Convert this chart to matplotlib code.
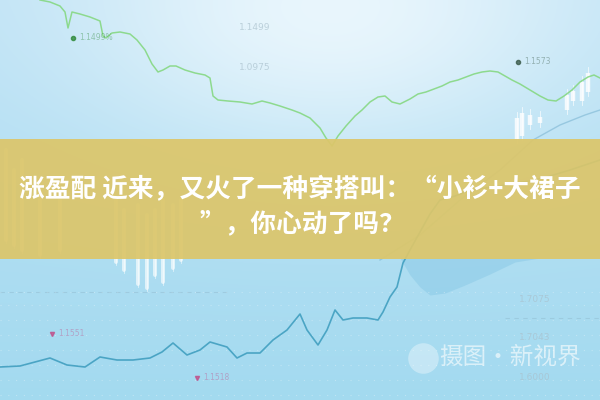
import numpy as np
import matplotlib
matplotlib.use("Agg")
import matplotlib.pyplot as plt

# title text
title_1 = "涨盈配 近来，又火了一种穿搭叫：“小衫+大裙子"
title_2 = "”，你心动了吗？"
watermark = "摄图·新视界"

# upper green price line (x = time, y = level)
green_x = [40, 50, 60, 65, 68, 72, 80, 90, 100, 103, 106, 112, 120, 130, 137, 145, 152, 158, 163,
           170, 176, 185, 195, 205, 210, 213, 218, 228, 240, 252, 262, 270, 280, 292, 300, 310, 320,
           326, 332, 338, 346, 355, 362, 370, 378, 385, 392, 400, 410, 418, 426, 434, 442, 450, 458,
           466, 474, 482, 490, 498, 505, 512, 520, 530, 540, 548, 556, 564, 572, 580, 588, 594, 600]
green_y = [0, 2, 6, 12, 28, 12, 14, 17, 21, 36, 38, 33, 32, 34, 40, 50, 64, 72, 70,
           66, 66, 70, 73, 75, 78, 96, 100, 101, 102, 104, 101, 103, 106, 110, 113, 118, 128,
           138, 146, 136, 126, 116, 110, 102, 97, 96, 102, 104, 99, 94, 92, 89, 86, 82, 80,
           77, 74, 72, 71, 72, 76, 80, 84, 90, 96, 100, 101, 96, 90, 82, 77, 75, 78]

# lower teal price line
teal_x = [0, 20, 35, 50, 67, 85, 100, 117, 133, 150, 162, 173, 187, 200, 210, 227, 237, 247, 260,
          273, 287, 300, 307, 318, 327, 335, 343, 353, 367, 378, 383, 390, 397, 403, 410, 420,
          430, 440, 455, 470, 485, 500, 515, 530, 550, 570, 585, 600]
teal_y = [367, 366, 362, 358, 365, 367, 357, 360, 360, 358, 352, 343, 355, 350, 342, 347, 358, 353, 353,
          340, 330, 314, 330, 345, 330, 310, 320, 318, 318, 320, 312, 297, 287, 263, 250, 232,
          214, 200, 196, 190, 188, 186, 183, 181, 176, 170, 165, 160]

# faint moving average under the candles
ma_x = [380, 420, 460, 500, 533, 560, 585, 600]
ma_y = [260, 235, 200, 170, 140, 125, 115, 110]

# candles upper right (x, top, bottom)
candle_up_x = [517, 522, 530, 540, 567, 573, 582, 588]
candle_up_top = [118, 113, 115, 117, 95, 91, 82, 73]
candle_up_bot = [139, 136, 125, 123, 110, 101, 101, 92]

# candles hanging under the band, lower left
candle_lo_x = [6, 14, 22, 40, 60, 116, 124, 138, 147, 155, 163, 173, 181]
candle_lo_top = [150, 170, 160, 190, 200, 200, 210, 205, 215, 210, 200, 205, 200]
candle_lo_bot = [240, 245, 250, 255, 250, 262, 270, 284, 288, 275, 282, 268, 260]

# axis-like labels on the picture
price_labels = ["1.1499", "1.0975", "1.7075", "1.7043", "1.6000"]
price_label_x = [255, 255, 535, 535, 535]
price_label_y = [28, 68, 300, 338, 377]

marker_labels = ["1.1499%", "1.1573", "1.1551", "1.1518"]
marker_x = [73, 518, 52, 197]
marker_y = [38, 62, 334, 378]
marker_colors = ["#2f8a3a", "#3a5a4a", "#c0508a", "#c0508a"]

fig = plt.figure(figsize=(6, 4), dpi=100)
ax = fig.add_axes([0, 0, 1, 1])
ax.set_xlim(0, 600)
ax.set_ylim(400, 0)
ax.axis("off")

# background gradient
H, W = 400, 600
yy, xx = np.mgrid[0:H, 0:W]
base_top = np.array([0.74, 0.885, 0.96])
base_bot = np.array([0.64, 0.855, 0.94])
t = (yy / H)[..., None]
img = base_top * (1 - t) + base_bot * t
glow = 0.75 * np.exp(-(((xx - 330) / 260.0) ** 2 + ((yy - 10) / 150.0) ** 2))
img = img * (1 - glow[..., None]) + np.array([0.97, 0.99, 1.0]) * glow[..., None]
ax.imshow(img, extent=[0, 600, 400, 0], aspect="auto", zorder=0)

# soft darker patch lower right
patch_x = np.array([400, 410, 420, 430, 445, 465, 490, 515, 540])
patch_y = np.array([258, 275, 287, 295, 293, 285, 274, 262, 258])
ax.fill_between(patch_x, 258, patch_y, color="#7fc3e2", alpha=0.4, lw=0, zorder=1)

# dotted grid
for gy in [292, 305, 320, 335, 350, 365, 380, 395]:
    ax.plot([0, 600], [gy, gy], color="white", lw=0.8, alpha=0.3, ls=(0, (1, 6)), zorder=1)
ax.plot([0, 230], [292, 292], color="#8fb8cc", lw=0.8, alpha=0.45, ls=(0, (4, 4)), zorder=1)
ax.plot([505, 600], [318, 318], color="#8fb8cc", lw=0.8, alpha=0.45, ls=(0, (4, 4)), zorder=1)

# candles
for cx, ct, cb in zip(candle_up_x, candle_up_top, candle_up_bot):
    ax.plot([cx, cx], [ct - 6, cb + 4], color="white", lw=0.6, alpha=0.75, zorder=2)
    ax.plot([cx, cx], [ct, cb], color="white", lw=3.2, alpha=0.8, solid_capstyle="butt", zorder=2)
for cx, ct, cb in zip(candle_lo_x, candle_lo_top, candle_lo_bot):
    ax.plot([cx, cx], [ct, cb + 3], color="white", lw=0.6, alpha=0.6, zorder=2)
    ax.plot([cx, cx], [ct, cb], color="white", lw=2.8, alpha=0.65, solid_capstyle="round", zorder=2)

# lines
ax.plot(ma_x, ma_y, color="#7cb6d2", lw=1.0, alpha=0.6, zorder=2)
ax.plot(green_x, green_y, color="#86d883", lw=1.1, alpha=0.9, zorder=3)
ax.plot(teal_x, teal_y, color="#419fc0", lw=1.2, alpha=0.9, zorder=3)

# labels
for s, lx, ly in zip(price_labels, price_label_x, price_label_y):
    ax.text(lx, ly, s, color="#a9c0cc", fontsize=6.5, ha="center", va="center", alpha=0.7, zorder=3)
for s, mx, my, mc in zip(marker_labels, marker_x, marker_y, marker_colors):
    ax.plot(mx, my, marker="v" if mc == "#c0508a" else "o", ms=3, color=mc, alpha=0.8, zorder=3)
    ax.text(mx + 6, my, s, color=mc, fontsize=5.5, ha="left", va="center", alpha=0.4, zorder=3)

# yellow band
ax.axhspan(139, 259, color="#dcc66a", alpha=0.93, lw=0, zorder=4)

# title
cjk = ["Noto Sans CJK SC", "DejaVu Sans"]
ax.text(300, 190, title_1, color="white", fontsize=18.5, fontweight="bold", family=cjk,
        ha="center", va="center", zorder=5)
ax.text(302, 224, title_2, color="white", fontsize=18.5, fontweight="bold", family=cjk,
        ha="center", va="center", zorder=5)

# watermark
ax.plot(423, 358, marker="o", ms=22, color="white", alpha=0.35, mec="none", zorder=5)
ax.text(510, 357, watermark, color="white", fontsize=17, family=cjk, ha="center", va="center",
        alpha=0.6, zorder=5)

fig.savefig("out.png", dpi=100)
